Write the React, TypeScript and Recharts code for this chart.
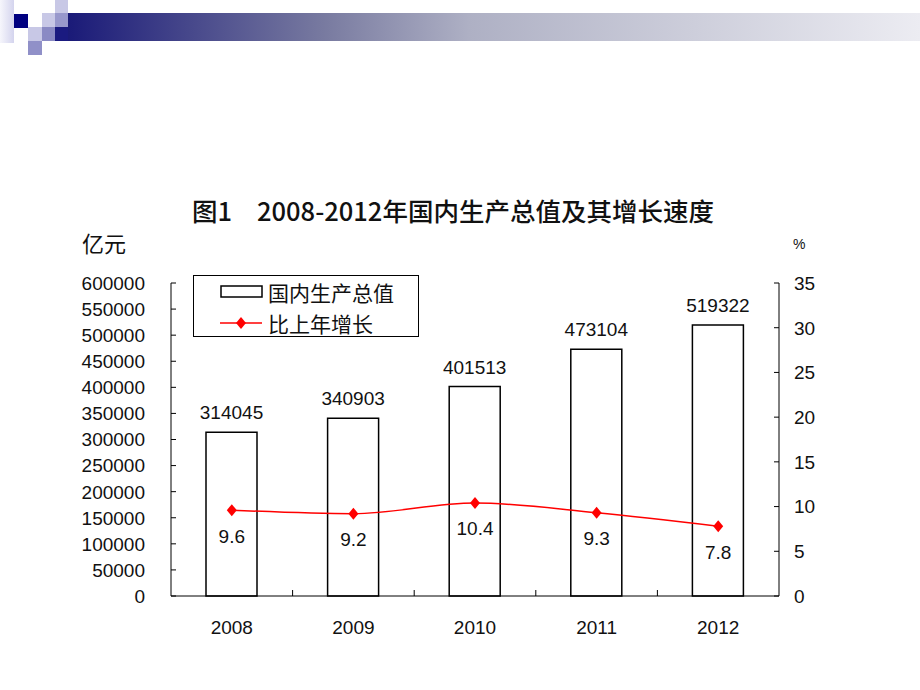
import React from "react";
import { ComposedChart, Bar, Line, XAxis, YAxis, LabelList, Legend } from "recharts";

const years = ["2008", "2009", "2010", "2011", "2012"];
const gdp = [314045, 340903, 401513, 473104, 519322];
const growth = [9.6, 9.2, 10.4, 9.3, 7.8];
const gdpTicks = [0, 50000, 100000, 150000, 200000, 250000, 300000, 350000, 400000, 450000, 500000, 550000, 600000];
const rateTicks = [0, 5, 10, 15, 20, 25, 30, 35];

const data = years.map((year, i) => ({ year, gdp: gdp[i], growth: growth[i] }));

const NUM_FONT = "'Liberation Sans', Arial, sans-serif";
const CJK_FONT = "'Noto Sans CJK SC', 'Noto Sans', sans-serif";
const INK = "#111";

// left axis: ticks point inward (right)
const LeftTick = ({ x, y, payload }: any) => (
  <g>
    <line x1={x} y1={y} x2={x + 5} y2={y} stroke="#000" />
    <text x={x - 26} y={y} dy="0.36em" textAnchor="end" fontSize={19} fontFamily={NUM_FONT} fill={INK}>
      {payload.value}
    </text>
  </g>
);

// right axis: ticks point inward (left)
const RightTick = ({ x, y, payload }: any) => (
  <g>
    <line x1={x} y1={y} x2={x - 5} y2={y} stroke="#000" />
    <text x={x + 15} y={y} dy="0.36em" textAnchor="start" fontSize={19} fontFamily={NUM_FONT} fill={INK}>
      {payload.value}
    </text>
  </g>
);

// year labels, with small upward ticks on the category boundaries
const YearTick = ({ x, y, payload, index }: any) => {
  const half = payload.offset || 60.8;
  return (
    <g>
      {index > 0 && <line x1={x - half} y1={y} x2={x - half} y2={y - 6} stroke="#000" />}
      <text x={x} y={y + 38} textAnchor="middle" fontSize={19} fontFamily={NUM_FONT} fill={INK}>
        {payload.value}
      </text>
    </g>
  );
};

const Diamond = ({ cx, cy }: any) => {
  if (cx == null || cy == null) return null;
  return <polygon points={`${cx},${cy - 6} ${cx + 5},${cy} ${cx},${cy + 6} ${cx - 5},${cy}`} fill="#f00" />;
};

const LegendBox = () => (
  <svg width={226} height={62} style={{ display: "block" }}>
    <rect x={0.5} y={0.5} width={225} height={61} fill="#fff" stroke="#000" />
    <rect x={28} y={11} width={41} height={11} fill="#fff" stroke="#000" strokeWidth={1.5} />
    <text x={75} y={17} dominantBaseline="central" fontSize={21} fontFamily={CJK_FONT} fill={INK}>
      国内生产总值
    </text>
    <line x1={27} y1={48} x2={69} y2={48} stroke="#f00" strokeWidth={1.5} />
    <Diamond cx={48} cy={48} />
    <text x={75} y={48} dominantBaseline="central" fontSize={21} fontFamily={CJK_FONT} fill={INK}>
      比上年增长
    </text>
  </svg>
);

const Header = () => (
  <svg width={920} height={60} style={{ position: "absolute", left: 0, top: 0 }}>
    <defs>
      <linearGradient id="band" x1="0" y1="0" x2="1" y2="0">
        <stop offset="0" stopColor="#1a1a78" />
        <stop offset="0.3" stopColor="#787aa0" />
        <stop offset="0.47" stopColor="#aeb0c4" />
        <stop offset="1" stopColor="#ececf2" />
      </linearGradient>
      <linearGradient id="pale" x1="0" y1="0" x2="1" y2="0">
        <stop offset="0" stopColor="#f6f6fc" />
        <stop offset="1" stopColor="#d4d4ee" />
      </linearGradient>
    </defs>
    <rect x={0} y={0} width={14} height={43} fill="url(#pale)" />
    <rect x={14} y={14} width={14} height={14} fill="#000080" />
    <rect x={28} y={27} width={14} height={14} fill="#c8c8e6" />
    <rect x={28} y={41} width={14} height={14} fill="#9090c8" />
    <rect x={42} y={13} width={13} height={14} fill="#c8c8e6" />
    <rect x={42} y={27} width={13} height={14} fill="#8a8ac4" />
    <rect x={55} y={0} width={13} height={13} fill="#c8c8e6" />
    <rect x={55} y={13} width={13} height={14} fill="#9898cc" />
    <rect x={55} y={27} width={13} height={14} fill="#1a1a80" />
    <rect x={68} y={13} width={852} height={28} fill="url(#band)" />
  </svg>
);

const titleStyle: React.CSSProperties = {
  position: "absolute",
  top: 197,
  fontFamily: CJK_FONT,
  fontWeight: 500,
  fontSize: 25.5,
  lineHeight: "26px",
  color: INK,
  whiteSpace: "pre",
};

export default function App() {
  return (
    <div style={{ position: "absolute", left: 0, top: 0, width: 920, height: 690, background: "#fff" }}>
      <Header />
      <div style={{ ...titleStyle, left: 192 }}>图1</div>
      <div style={{ ...titleStyle, left: 257 }}>2008-2012年国内生产总值及其增长速度</div>
      <div style={{ position: "absolute", left: 82, top: 229, fontFamily: CJK_FONT, fontSize: 22, lineHeight: "26px", color: INK }}>
        亿元
      </div>
      <div style={{ position: "absolute", left: 793, top: 235, fontFamily: NUM_FONT, fontSize: 14, lineHeight: "18px", color: INK }}>
        %
      </div>
      <ComposedChart width={920} height={690} data={data} margin={{ top: 283, right: 0, bottom: 0, left: 0 }}>
        <XAxis
          dataKey="year"
          height={94}
          axisLine={{ stroke: "#000" }}
          tickLine={false}
          tickSize={0}
          tickMargin={0}
          tick={<YearTick />}
          interval={0}
        />
        <YAxis
          yAxisId="left"
          orientation="left"
          width={171}
          domain={[0, 600000]}
          ticks={gdpTicks}
          interval={0}
          axisLine={{ stroke: "#000" }}
          tickLine={false}
          tickSize={0}
          tickMargin={0}
          tick={<LeftTick />}
        />
        <YAxis
          yAxisId="right"
          orientation="right"
          width={141}
          domain={[0, 35]}
          ticks={rateTicks}
          interval={0}
          axisLine={{ stroke: "#000" }}
          tickLine={false}
          tickSize={0}
          tickMargin={0}
          tick={<RightTick />}
        />
        <Legend
          layout="vertical"
          align="center"
          verticalAlign="middle"
          wrapperStyle={{ left: 193, top: 275, width: 226, height: 62 }}
          content={<LegendBox />}
        />
        <Bar yAxisId="left" dataKey="gdp" fill="#fff" stroke="#000" strokeWidth={1.5} barSize={51} isAnimationActive={false}>
          <LabelList dataKey="gdp" position="top" offset={13} fontSize={19} fontFamily={NUM_FONT} fill={INK} />
        </Bar>
        <Line
          yAxisId="right"
          type="monotone"
          dataKey="growth"
          stroke="#f00"
          strokeWidth={1.5}
          dot={(p: any) => <Diamond key={p.index} cx={p.cx} cy={p.cy} />}
          activeDot={false}
          isAnimationActive={false}
        >
          <LabelList dataKey="growth" position="bottom" offset={19} fontSize={19} fontFamily={NUM_FONT} fill={INK} />
        </Line>
      </ComposedChart>
    </div>
  );
}
